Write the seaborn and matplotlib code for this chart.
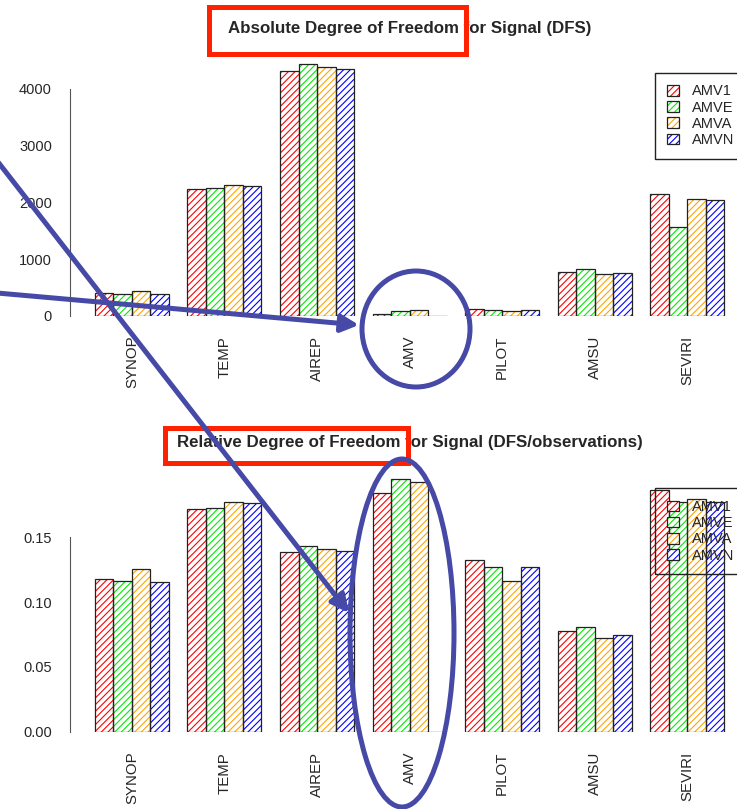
import numpy as np
import pandas as pd
import seaborn as sns
import matplotlib.pyplot as plt
from matplotlib.patches import Rectangle, Ellipse, Patch

obs = ['SYNOP', 'TEMP', 'AIREP', 'AMV', 'PILOT', 'AMSU', 'SEVIRI']
runs = ['AMV1', 'AMVE', 'AMVA', 'AMVN']
colors = ['#ff0000', '#00ee00', '#ffa500', '#0000ff']

dfs_amv1 = [395, 2235, 4316, 30, 113, 776, 2146]
dfs_amve = [377, 2252, 4444, 76, 100, 818, 1564]
dfs_amva = [430, 2300, 4381, 100, 88, 730, 2058]
dfs_amvn = [383, 2288, 4346, 0, 100, 748, 2040]

rel_amv1 = [0.1176, 0.1716, 0.1390, 0.1840, 0.1325, 0.0777, 0.1865]
rel_amve = [0.1160, 0.1726, 0.1433, 0.1950, 0.1268, 0.0810, 0.1770]
rel_amva = [0.1253, 0.1773, 0.1410, 0.1926, 0.1163, 0.0721, 0.1794]
rel_amvn = [0.1153, 0.1765, 0.1397, 0.0, 0.1270, 0.0746, 0.1775]


def long_df(series):
    rows = []
    for run, vals in zip(runs, series):
        for o, v in zip(obs, vals):
            rows.append({'obs': o, 'run': run, 'value': v})
    return pd.DataFrame(rows)


df_abs = long_df([dfs_amv1, dfs_amve, dfs_amva, dfs_amvn])
df_rel = long_df([rel_amv1, rel_amve, rel_amva, rel_amvn])

sns.set_style('white')
plt.rcParams['font.family'] = ['Liberation Sans', 'DejaVu Sans']
plt.rcParams['hatch.linewidth'] = 0.8

W, H = 737, 809
fig = plt.figure(figsize=(W / 100, H / 100), dpi=100)


def px_axes(left, top, right, bottom):
    return fig.add_axes([left / W, 1 - bottom / H, (right - left) / W, (bottom - top) / H])


def hatch_bars(ax):
    for cont, c in zip(ax.containers, colors):
        for p in cont.patches:
            p.set_facecolor('white')
            p.set_edgecolor(c)
            p.set_hatch('/////')
            p.set_linewidth(0)
            ax.add_patch(Rectangle(p.get_xy(), p.get_width(), p.get_height(),
                                   fill=False, edgecolor='#222222', lw=0.9, zorder=3))


def style_axis(ax, ymax, yticks, ticklabels):
    ax.set_xlim(-0.67, 6.54)
    ax.set_ylim(0, ymax)
    for s in ['top', 'right', 'bottom']:
        ax.spines[s].set_visible(False)
    ax.spines['left'].set_bounds(yticks[0], yticks[-1])
    ax.spines['left'].set_color('#555555')
    ax.set_yticks(yticks)
    ax.set_yticklabels(ticklabels)
    ax.tick_params(axis='y', length=7, width=1, color='#555555', pad=6, labelsize=10.5)
    ax.tick_params(axis='x', length=0, pad=14.5, labelsize=10.8, labelrotation=90)
    for t in ax.get_xticklabels():
        t.set_va('top')
    ax.set_xlabel('')
    ax.set_ylabel('')


ax1 = px_axes(70, 60.6, 737, 315.7)
sns.barplot(data=df_abs, x='obs', y='value', hue='run', palette=colors,
            width=0.8, saturation=1, legend=False, ax=ax1)
hatch_bars(ax1)
style_axis(ax1, 4500, [0, 1000, 2000, 3000, 4000], ['0', '1000', '2000', '3000', '4000'])

ax2 = px_axes(70, 472.5, 737, 731.7)
sns.barplot(data=df_rel, x='obs', y='value', hue='run', palette=colors,
            width=0.8, saturation=1, legend=False, ax=ax2)
hatch_bars(ax2)
style_axis(ax2, 0.2, [0, 0.05, 0.10, 0.15], ['0.00', '0.05', '0.10', '0.15'])

fig.text(410 / W, 1 - 28 / H, 'Absolute Degree of Freedom for Signal (DFS)',
         ha='center', va='center', fontsize=12.2, fontweight='bold')
fig.text(410 / W, 1 - 443 / H, 'Relative Degree of Freedom for Signal (DFS/observations)',
         ha='center', va='center', fontsize=12.2, fontweight='bold')

handles = [(Patch(facecolor='white', edgecolor=c, hatch='/////', lw=0),
            Patch(facecolor='none', edgecolor='#222222', lw=0.9)) for c in colors]
for top in [72.7, 488.3]:
    leg = fig.legend(handles, runs, loc='upper left', bbox_to_anchor=(655 / W, 1 - top / H),
                     borderaxespad=0, fontsize=10.5, frameon=True, fancybox=False,
                     edgecolor='#222222', handlelength=0.85, handleheight=0.75,
                     handletextpad=0.9, labelspacing=0.15, borderpad=0.8)
    frame = leg.get_frame()
    frame.set_facecolor('none')
    frame.set_alpha(None)
    frame.set_edgecolor('#222222')
    frame.set_linewidth(1)

# annotation overlay in pixel space
ov = fig.add_axes([0, 0, 1, 1], zorder=10)
ov.set_xlim(0, W)
ov.set_ylim(H, 0)
ov.axis('off')
ov.patch.set_alpha(0)

red = '#ff2200'
blue = '#4649a6'
ov.add_patch(Rectangle((209, 7), 257, 47, fill=False, edgecolor=red, lw=3.6))
ov.add_patch(Rectangle((165, 428), 243, 35, fill=False, edgecolor=red, lw=3.6))
ov.add_patch(Ellipse((416, 329), 108, 116, fill=False, edgecolor=blue, lw=3.6))
ov.add_patch(Ellipse((402, 633), 104, 348, fill=False, edgecolor=blue, lw=3.6))
ov.annotate('', xy=(359, 325), xytext=(-20, 291.5), annotation_clip=False,
            arrowprops=dict(arrowstyle='-|>', lw=3.6, color=blue, mutation_scale=26,
                            shrinkA=0, shrinkB=0))
ov.annotate('', xy=(349, 613), xytext=(-30, 126), annotation_clip=False,
            arrowprops=dict(arrowstyle='-|>', lw=3.6, color=blue, mutation_scale=26,
                            shrinkA=0, shrinkB=0))

plt.savefig('out.png', dpi=100)
